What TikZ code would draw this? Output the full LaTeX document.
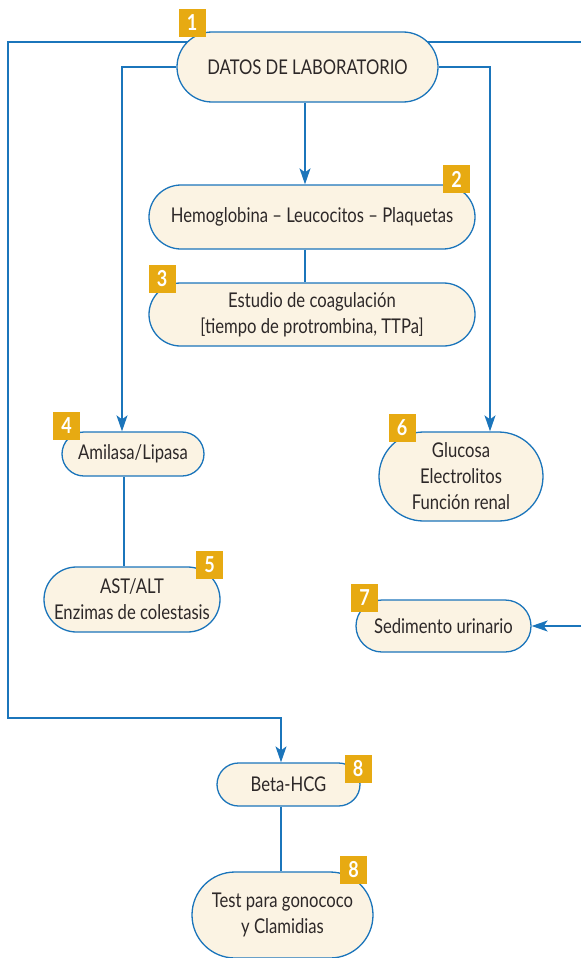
\documentclass[tikz,border=0pt]{standalone}
\usepackage{fontspec}
\setmainfont{Lato}[FakeStretch=0.82]
\usetikzlibrary{arrows.meta,shapes.misc,backgrounds}
\definecolor{labblue}{RGB}{27,117,187}
\definecolor{labcream}{RGB}{251,243,227}
\definecolor{labgold}{RGB}{231,170,18}
\definecolor{labtext}{RGB}{45,40,40}
\begin{document}
\begin{tikzpicture}[x=1pt,y=-1pt]
  \tikzset{
    box/.style={rounded rectangle,draw=labblue,line width=1.3pt,fill=labcream,
      text=labtext,align=center,inner sep=0pt,font=\fontsize{20.3}{26}\selectfont},
    badge/.style={fill=labgold,text=white,inner sep=0pt,minimum width=27pt,
      minimum height=28pt,font=\bfseries\fontsize{22}{22}\selectfont},
    link/.style={draw=labblue,line width=1.3pt},
    tip/.style={-{Stealth[length=16pt,width=11pt,inset=4pt]}}
  }
  \useasboundingbox (0,0) rectangle (581,958);

    %BOXES
    \node[box,minimum width=261pt,minimum height=70pt] (datos) at (307.5,67) {DATOS DE LABORATORIO};
    \node[box,minimum width=326pt,minimum height=64pt] (hemo) at (312,217) {Hemoglobina -- Leucocitos -- Plaquetas};
    \node[box,minimum width=326pt,minimum height=63pt] (coag) at (312,314.5) {Estudio de coagulación\\{}[tiempo de protrombina, TTPa]};
    \node[box,minimum width=142pt,minimum height=44pt] (amil) at (133,454) {Amilasa/Lipasa};
    \node[box,minimum width=176pt,minimum height=65pt] (ast) at (132,599.5) {AST/ALT\\Enzimas de colestasis};
    \node[box,minimum width=164pt,minimum height=89pt] (gluc) at (461,476.5) {Glucosa\\Electrolitos\\Función renal};
    \node[box,minimum width=175pt,minimum height=52pt] (sedi) at (443.5,626) {Sedimento urinario};
    \node[box,minimum width=143pt,minimum height=43pt] (beta) at (288.5,784.5) {Beta-HCG};
    \node[box,minimum width=181pt,minimum height=86pt] (test) at (282.5,915) {Test para gonococo\\y Clamidias};

    %NUMBERS
    \node[badge] (b1) at (192,23) {1};
    \node[badge] (b2) at (456.5,179) {2};
    \node[badge] (b3) at (162,279) {3};
    \node[badge] (b4) at (66.5,425.5) {4};
    \node[badge] (b5) at (209.5,564.5) {5};
    \node[badge] (b6) at (402,428) {6};
    \node[badge] (b7) at (364.5,597.5) {7};
    \node[badge] (b8) at (358,768.5) {8};
    \node[badge] (b9) at (353.5,869.5) {8};

    \coordinate (edgeA) at (581,42);
    \coordinate (edgeB) at (581,626);

    %LINKS
    \begin{scope}[on background layer]
      \draw[link,tip] ([yshift=25pt]datos.center) -| (8,718) -| ([xshift=-7.5pt]beta.north);
      \draw[link] ([yshift=25pt]datos.center) -- (edgeA);
      \draw[link,tip] (edgeB) -- (sedi.east);
      \draw[link,tip] (datos.west) -| ([xshift=-11pt]amil.north);
      \draw[link,tip] (datos.east) -| ([xshift=29pt]gluc.north);
      \draw[link,tip] ([xshift=-2.5pt]datos.south) -- ([xshift=-7pt]hemo.north);
      \draw[link] ([xshift=-7pt]hemo.south) -- ([xshift=-7pt]coag.north);
      \draw[link] ([xshift=-9pt]amil.south) -- ([xshift=-9pt]amil.south |- ast.north);
      \draw[link] ([xshift=-7.5pt]beta.south) -- ([xshift=-7.5pt]beta.south |- test.north);
    \end{scope}
  \end{tikzpicture}
\end{document}
